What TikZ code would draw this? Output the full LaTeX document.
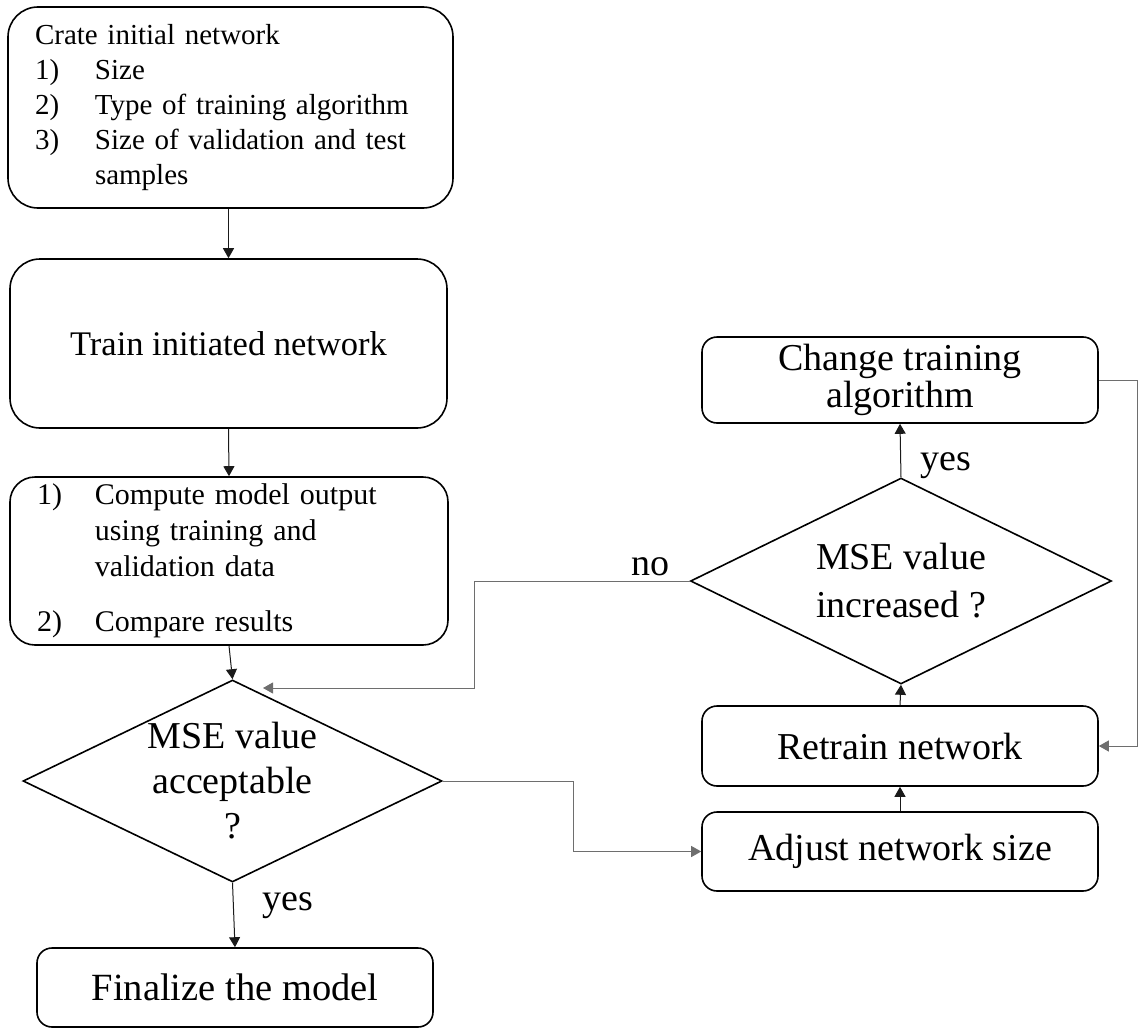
\documentclass[tikz,border=0pt]{standalone}
\usepackage{fontspec}
\setmainfont{Liberation Serif}
\usetikzlibrary{arrows.meta,shapes.geometric}
\definecolor{flink}{HTML}{1A1A1A}
\definecolor{flgray}{HTML}{6E6E6E}
\tikzset{
  bx/.style={draw=black, line width=1.6pt, rounded corners=15pt, align=center, inner sep=2pt},
  big/.style={bx, rounded corners=30pt},
  lst/.style={big, align=left, inner xsep=27pt},
  dec/.style={diamond, aspect=2.06, draw=black, line width=1.6pt, inner sep=-4pt, align=center, font=\fontsize{38}{45}\selectfont},
  arr/.style={-{Triangle[length=10pt,width=11pt]}, line width=1pt, color=flink},
  elb/.style={arr, color=flgray},
  lbl/.style={font=\fontsize{38}{45}\selectfont, inner sep=0pt},
}

\begin{document}
\begin{tikzpicture}[x=1pt, y=-1pt]
  \useasboundingbox (0,0) rectangle (1144,1036);
  % left column
  \node[lst, text width=391pt, minimum height=201pt, font=\fontsize{29}{35}\selectfont] (init) at (230.5,107.5) {Crate initial network\\\makebox[60pt][l]{1)}Size\\\makebox[60pt][l]{2)}Type of training algorithm\\\makebox[60pt][l]{3)}Size of validation and test\\\hspace*{60pt}samples};
  \node[big, minimum width=437pt, minimum height=169pt, font=\fontsize{34.5}{40}\selectfont] (train) at (228.5,343.5) {Train initiated network};
  \node[lst, rounded corners=25pt, text width=384pt, minimum height=168pt, font=\fontsize{30}{36}\selectfont] (comp) at (229,561) {\makebox[58pt][l]{1)}Compute model output\\\hspace*{58pt}using training and\\\hspace*{58pt}validation data\\[19pt]\makebox[58pt][l]{2)}Compare results};
  \node[dec, minimum width=419pt, minimum height=202pt] (acc) at (232.5,781) {MSE value\\acceptable\\?};
  \node[bx, minimum width=396pt, minimum height=79pt, font=\fontsize{38.5}{45}\selectfont] (fin) at (235,987.5) {Finalize the model};
  % right column
  \node[bx, minimum width=396pt, minimum height=86pt, font=\fontsize{38}{37}\selectfont] (chg) at (900,380) {Change training\\algorithm};
  \node[dec, minimum width=421pt, minimum height=206pt, font=\fontsize{38}{48}\selectfont] (inc) at (901,581) {MSE value\\increased ?};
  \node[bx, minimum width=396pt, minimum height=80pt, font=\fontsize{38}{45}\selectfont] (ret) at (900,746) {Retrain network};
  \node[bx, minimum width=396pt, minimum height=79pt, font=\fontsize{38}{45}\selectfont] (adj) at (900,851.5) {Adjust network size};
  \coordinate (noin) at (263,688);
  % labels
  \node[lbl, anchor=base west] (yesa) at (262,910) {yes};
  \node[lbl, anchor=base west] (yesb) at (920,470) {yes};
  \node[lbl, anchor=base west] (no) at (631,575) {no};
  % connectors
  \draw[arr] (train.north |- init.south) -- (train.north);
  \draw[arr] (train.south) -- (comp.north);
  \draw[arr] (comp.south) -- (acc.north);
  \draw[arr] (acc.south) -- (fin.north);
  \draw[elb] (acc.east) -- ++(131,0) |- (adj.west);
  \draw[arr] (adj.north) -- (ret.south);
  \draw[arr] (ret.north) -- (inc.south);
  \draw[arr] (inc.north) -- (chg.south);
  \draw[elb] (chg.east) -- ++(39,0) |- (ret.east);
  \draw[elb] (inc.west) -- ++(-215,0) |- (noin);
\end{tikzpicture}
\end{document}
